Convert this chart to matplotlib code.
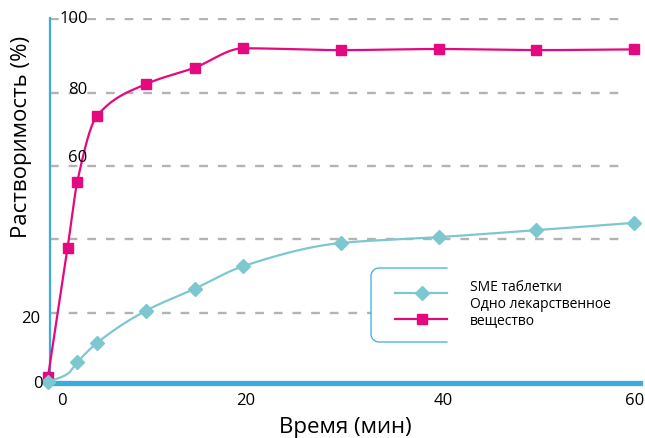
import numpy as np
import matplotlib
matplotlib.use("Agg")
import matplotlib.pyplot as plt
from matplotlib.transforms import Affine2D

plt.rcParams['font.family'] = ['Open Sans', 'DejaVu Sans']

# data
time_min = [0, 2, 3, 5, 10, 15, 20, 30, 40, 50, 60]
drug_pct = [2.5, 37.6, 55.7, 73.6, 82.3, 86.8, 92.1, 91.6, 91.9, 91.6, 91.8]
sme_pct = [1.1, 3.3, 6.5, 11.7, 20.5, 26.5, 32.7, 39.0, 40.6, 42.5, 44.5]
sme_markers = [0, 2, 3, 4, 5, 6, 7, 8, 9, 10]  # no marker at 2 min

grid_vals = [20, 40, 60, 80, 100]
ytick_labels = ["100", "80", "60", "20", "0"]
xtick_vals = [0, 20, 40, 60]
legend_labels = ["SME таблетки", "Одно лекарственное", "вещество"]

PINK = "#E5097F"
TEAL = "#7DC7D0"
BLUE = "#3AACE0"
GREY = "#B3B3B3"

W, H = 645, 438


def smooth(x, y, n=40):
    # monotone cubic (Fritsch-Carlson) just for drawing the curve
    x = np.asarray(x, float)
    y = np.asarray(y, float)
    h = np.diff(x)
    d = np.diff(y) / h
    m = np.zeros_like(y)
    m[0], m[-1] = d[0], d[-1]
    for i in range(1, len(x) - 1):
        if d[i - 1] * d[i] <= 0:
            m[i] = 0
        else:
            w1 = 2 * h[i] + h[i - 1]
            w2 = h[i] + 2 * h[i - 1]
            m[i] = (w1 + w2) / (w1 / d[i - 1] + w2 / d[i])
    xs, ys = [], []
    for i in range(len(x) - 1):
        s = np.linspace(0, 1, n)
        h00 = 2 * s**3 - 3 * s**2 + 1
        h10 = s**3 - 2 * s**2 + s
        h01 = -2 * s**3 + 3 * s**2
        h11 = s**3 - s**2
        xs.append(x[i] + s * h[i])
        ys.append(h00 * y[i] + h10 * h[i] * m[i] + h01 * y[i + 1] + h11 * h[i] * m[i + 1])
    return np.concatenate(xs), np.concatenate(ys)


fig = plt.figure(figsize=(W / 100, H / 100), dpi=100)
px = Affine2D().scale(1 / W, -1 / H).translate(0, 1) + fig.transFigure

# axes box: left spine at x=50px, bottom spine at y=382.5px
ax = fig.add_axes([50 / W, 1 - 382.5 / H, 590 / W, (382.5 - 18) / H])
ax.set_xlim((50 - 48) / 9.77, (640 - 48) / 9.77)
ax.set_ylim((386 - 382.5) / 3.667, (386 - 18) / 3.667)
ax.set_xticks([])
ax.set_yticks([])
for s in ["top", "right"]:
    ax.spines[s].set_visible(False)
ax.spines["left"].set_color(BLUE)
ax.spines["left"].set_linewidth(1.6)
ax.spines["bottom"].set_color(BLUE)
ax.spines["bottom"].set_linewidth(3.8)
ax.spines["bottom"].set_zorder(2.5)

# dashed grid
ax.hlines(grid_vals, ax.get_xlim()[0], (625 - 48) / 9.77, colors=GREY,
          linewidth=1.7, linestyles=(0, (3.7, 4.2)), zorder=1)

# white legend area (hides the grid underneath)
ax.add_patch(plt.Rectangle((371, 268), 274, 74, transform=px, facecolor="white",
                           edgecolor="none", zorder=2, clip_on=False))

# curves
xs, ys = smooth(time_min, drug_pct)
ax.plot(xs, ys, color=PINK, lw=1.6, zorder=3, clip_on=False)
ax.plot(time_min, drug_pct, ls="none", marker="s", ms=7.5, color=PINK, zorder=4, clip_on=False)
xs, ys = smooth(time_min, sme_pct)
ax.plot(xs, ys, color=TEAL, lw=1.6, zorder=5, clip_on=False)
ax.plot([time_min[i] for i in sme_markers], [sme_pct[i] for i in sme_markers], ls="none",
        marker="D", ms=7.4, color=TEAL, zorder=6, clip_on=False)

# tick labels (placed as in the picture)
ypos = [(74, 19), (77.5, 90), (77.5, 158), (30.5, 319), (37.5, 384)]
for lab, (x, y) in zip(ytick_labels, ypos):
    fig.text(x, y, lab, transform=px, ha="center", va="center", fontsize=12, zorder=7)
xpos = [62, 246, 443, 635]
for v, x in zip(xtick_vals, xpos):
    fig.text(x, 401, str(v), transform=px, ha="center", va="center", fontsize=12)

fig.text(22, 137, "Растворимость (%)", transform=px, rotation=90, ha="center",
         va="center", fontsize=16)
fig.text(345, 427, "Время (мин)", transform=px, ha="center", va="center", fontsize=16)

# legend bracket
r = 8
a = np.linspace(np.pi / 2, np.pi, 10)
b = np.linspace(np.pi, 1.5 * np.pi, 10)
bx = np.concatenate([[447], 371 + r + r * np.cos(a), 371 + r + r * np.cos(b), [447]])
by = np.concatenate([[268], 268 + r - r * np.sin(a), 342 - r - r * np.sin(b), [342]])
ax.plot(bx, by, color=BLUE, lw=0.9, transform=px, clip_on=False, zorder=7)
ax.plot([395, 447], [293, 293], color=TEAL, lw=1.6, transform=px, clip_on=False, zorder=7)
ax.plot([422], [293], marker="D", ms=7.4, color=TEAL, transform=px, clip_on=False, zorder=8)
ax.plot([395, 447], [319, 319], color=PINK, lw=1.6, transform=px, clip_on=False, zorder=7)
ax.plot([422], [319], marker="s", ms=7.5, color=PINK, transform=px, clip_on=False, zorder=8)
for lab, y in zip(legend_labels, [287.5, 305, 322]):
    fig.text(470, y, lab, transform=px, ha="left", va="center", fontsize=10)

fig.savefig("out.png", dpi=100)
